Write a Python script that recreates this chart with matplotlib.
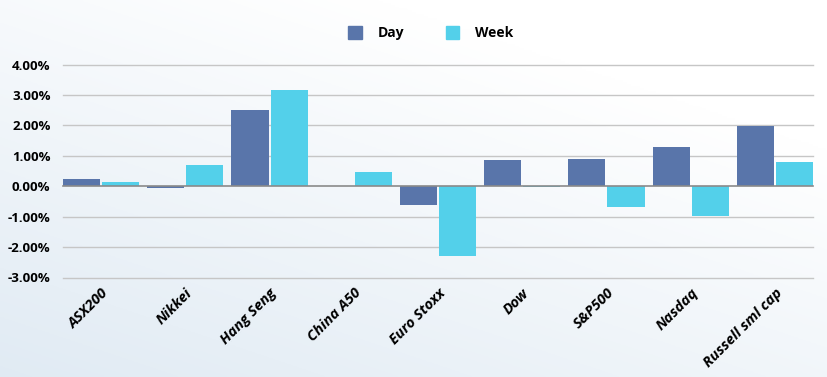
import numpy as np
import matplotlib.pyplot as plt
from matplotlib.patches import Patch
from matplotlib.ticker import FuncFormatter

# Data
markets = ["ASX200", "Nikkei", "Hang Seng", "China A50", "Euro Stoxx",
           "Dow", "S&P500", "Nasdaq", "Russell sml cap"]
day = [0.23, -0.07, 2.51, 0.0, -0.61, 0.86, 0.90, 1.29, 1.97]
week = [0.15, 0.71, 3.16, 0.48, -2.29, -0.03, -0.67, -0.97, 0.80]
yticks = [-3, -2, -1, 0, 1, 2, 3, 4]

day_color = "#5975AA"
week_color = "#53D0EA"
font = ["Open Sans", "Lato", "DejaVu Sans"]

fig = plt.figure(figsize=(8.28, 3.77), dpi=100)

# Background gradient
bg = fig.add_axes([0, 0, 1, 1], zorder=-10)
gx, gy = np.meshgrid(np.linspace(0, 1, 200), np.linspace(0, 1, 200))
t = np.clip(0.55 * gx + 0.75 * (1 - gy), 0, 1)
c0 = np.array([0.88, 0.92, 0.955])
c1 = np.array([1.0, 1.0, 1.0])
img = c0[None, None, :] * (1 - t[..., None]) + c1[None, None, :] * t[..., None]
bg.imshow(img, extent=[0, 1, 0, 1], origin="upper", aspect="auto")
bg.axis("off")

ax = fig.add_axes([63 / 828, 1 - 277.5 / 377, 750 / 828, 213 / 377])
ax.set_facecolor("none")

x = np.arange(len(markets))
w = 0.44
off = 0.232
ax.bar(x - off, day, w, color=day_color, zorder=3)
ax.bar(x + off, week, w, color=week_color, zorder=3)

ax.set_xlim(-off - w / 2, len(markets) - 1 + off + w / 2)
ax.set_ylim(-3, 4)
ax.set_yticks(yticks)
ax.yaxis.set_major_formatter(FuncFormatter(lambda v, p: f"{v:.2f}%"))
for v in yticks:
    ax.axhline(v, color="#8a8a8a" if v == 0 else "#c6c6c6",
               lw=1.2 if v == 0 else 1.0, zorder=1 if v != 0 else 4,
               clip_on=False)

for s in ax.spines.values():
    s.set_visible(False)

ax.tick_params(axis="y", length=0, pad=9, labelsize=9.5)
ax.tick_params(axis="x", length=0, pad=6, labelsize=10.5)
ax.set_xticks(x)
ax.set_xticklabels(markets, rotation=45, ha="right", rotation_mode="anchor",
                   fontstyle="italic", fontweight="bold", fontfamily=font)
for lab in ax.get_yticklabels():
    lab.set_fontweight("bold")
    lab.set_fontfamily(font)

handles = [Patch(color=day_color, label="Day"),
           Patch(color=week_color, label="Week")]
fig.legend(handles=handles, loc="center", bbox_to_anchor=(0.52, 0.912),
           ncol=2, frameon=False, handlelength=1.0, handleheight=1.0,
           columnspacing=3.0, handletextpad=1.1,
           prop={"family": font, "weight": "bold", "size": 10})

plt.savefig("out.png", dpi=100)
plt.close()
